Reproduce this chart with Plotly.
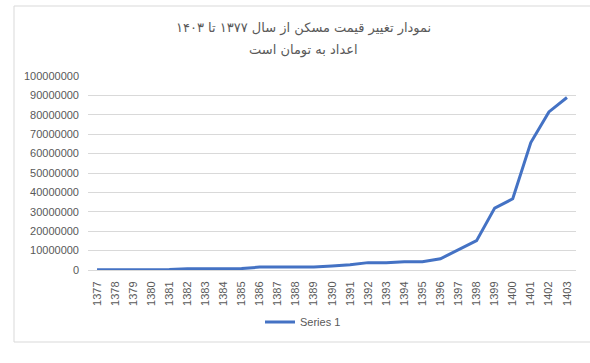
import plotly.graph_objects as go

years = [str(y) for y in range(1377, 1404)]
prices = [150000, 150000, 150000, 200000, 250000, 600000, 650000, 700000, 750000,
          1500000, 1550000, 1550000, 1600000, 2100000, 2700000, 3800000, 3800000,
          4300000, 4300000, 5800000, 10500000, 15100000, 31900000, 36700000,
          65700000, 81500000, 88900000]
y_ticks = list(range(0, 100000001, 10000000))
series_name = "Series 1"
title_line1 = "نمودار تغییر قیمت مسکن از سال ۱۳۷۷ تا ۱۴۰۳"
title_line2 = "اعداد به تومان است"

W, H = 590, 363
L, R, T, B = 88, 14, 76, 93
pw, ph = W - L - R, H - T - B

def px(x):
    return (x - L) / pw

def py(y):
    return (H - B - y) / ph

grey = "#595959"

fig = go.Figure()
fig.add_trace(go.Scatter(
    x=years, y=prices, mode="lines", name=series_name,
    line=dict(color="#4472C4", width=3),
))

fig.update_layout(
    width=W, height=H,
    margin=dict(l=L, r=R, t=T, b=B, autoexpand=False),
    paper_bgcolor="white", plot_bgcolor="white",
    showlegend=True,
    legend=dict(orientation="h", x=px(303), xanchor="center", y=py(322), yanchor="middle",
                font=dict(family="Liberation Sans", size=11, color=grey),
                itemwidth=30, bgcolor="rgba(0,0,0,0)"),
    xaxis=dict(type="category", range=[-0.5, len(years) - 0.5], showgrid=False,
               showline=True, linecolor="#d9d9d9", linewidth=1, automargin=False,
               tickangle=-90, ticks="", ticklabelstandoff=6,
               tickfont=dict(family="Liberation Sans", size=11, color=grey)),
    yaxis=dict(range=[0, 100000000], tickvals=y_ticks,
               ticktext=[str(v) for v in y_ticks], automargin=False,
               showgrid=True, gridcolor="#d9d9d9", gridwidth=1,
               zeroline=False, showline=False, ticks="", ticklabelstandoff=8,
               tickfont=dict(family="Liberation Sans", size=11, color=grey)),
    annotations=[
        dict(text=title_line1, xref="paper", yref="paper", x=px(303), y=py(28),
             xanchor="center", yanchor="middle", showarrow=False,
             font=dict(family="DejaVu Sans", size=13, color=grey)),
        dict(text=title_line2, xref="paper", yref="paper", x=px(303), y=py(50),
             xanchor="center", yanchor="middle", showarrow=False,
             font=dict(family="DejaVu Sans", size=13, color=grey)),
    ],
    shapes=[
        dict(type="rect", xref="paper", yref="paper",
             x0=px(14), x1=px(600), y0=py(342), y1=py(6),
             line=dict(color="#d9d9d9", width=1), layer="below"),
    ],
)

fig.write_html("out.html", config={"displayModeBar": False},
               post_script="document.body.style.margin='0';document.body.style.overflow='hidden';")
